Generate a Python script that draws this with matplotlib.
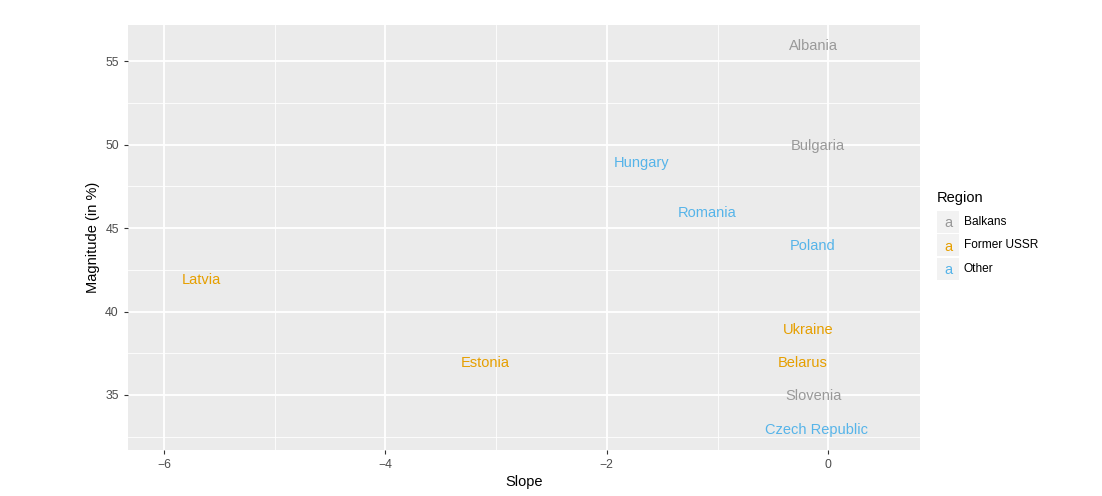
import matplotlib.pyplot as plt
from matplotlib.patches import Rectangle
from matplotlib.ticker import MultipleLocator

countries = ["Albania", "Bulgaria", "Hungary", "Romania", "Poland", "Latvia",
             "Ukraine", "Belarus", "Estonia", "Slovenia", "Czech Republic"]
slope = [-0.13, -0.09, -1.69, -1.09, -0.14, -5.66, -0.18, -0.23, -3.10, -0.13, -0.11]
magnitude = [56, 50, 49, 46, 44, 42, 39, 37, 37, 35, 33]
region = ["Balkans", "Balkans", "Other", "Other", "Other", "Former USSR",
          "Former USSR", "Former USSR", "Former USSR", "Balkans", "Other"]

regions = ["Balkans", "Former USSR", "Other"]
colors = {"Balkans": "#999999", "Former USSR": "#E69F00", "Other": "#56B4E9"}


def main():
    plt.rcParams['font.family'] = ['Liberation Sans', 'DejaVu Sans']
    fig = plt.figure(figsize=(11.02, 4.96), dpi=100)
    ax = fig.add_axes([0.116, 0.093, 0.719, 0.857])
    ax.set_facecolor("#EBEBEB")

    for name, x, y, r in zip(countries, slope, magnitude, region):
        ax.text(x, y, name, color=colors[r], fontsize=10.5, ha="center",
                va="center_baseline")

    ax.set_xlim(-6.325, 0.83)
    ax.set_ylim(31.7, 57.2)
    ax.xaxis.set_minor_locator(MultipleLocator(1))
    ax.yaxis.set_major_locator(MultipleLocator(5))
    ax.yaxis.set_minor_locator(MultipleLocator(2.5))
    ax.set_xticks([-6, -4, -2, 0])
    ax.set_xticklabels(["\u22126", "\u22124", "\u22122", "0"])
    ax.grid(which="major", color="white", linewidth=1.3)
    ax.grid(which="minor", color="white", linewidth=0.6)
    ax.set_axisbelow(True)
    for s in ax.spines.values():
        s.set_visible(False)
    ax.tick_params(which="major", length=3, color="#333333", labelcolor="#4D4D4D",
                   labelsize=8.8, width=0.8)
    ax.tick_params(which="minor", length=0)
    ax.set_xlabel("Slope", fontsize=10.5, labelpad=3)
    ax.set_ylabel("Magnitude (in %)", fontsize=10.5, labelpad=4)

    # legend
    fig.text(937 / 1102, 1 - 198 / 496, "Region", fontsize=10.5, va="center")
    for i, r in enumerate(regions):
        yc = 1 - (222 + 23.5 * i) / 496
        fig.add_artist(Rectangle((937 / 1102, yc - 11 / 496), 22 / 1102, 22 / 496,
                                 transform=fig.transFigure, facecolor="#F2F2F2",
                                 edgecolor="none"))
        fig.text(948 / 1102, yc, "a", color=colors[r], fontsize=10.5,
                 ha="center", va="center_baseline")
        fig.text(964 / 1102, yc, r, fontsize=8.6, va="center")

    fig.savefig("out.png", dpi=100)


if __name__ == "__main__":
    main()
